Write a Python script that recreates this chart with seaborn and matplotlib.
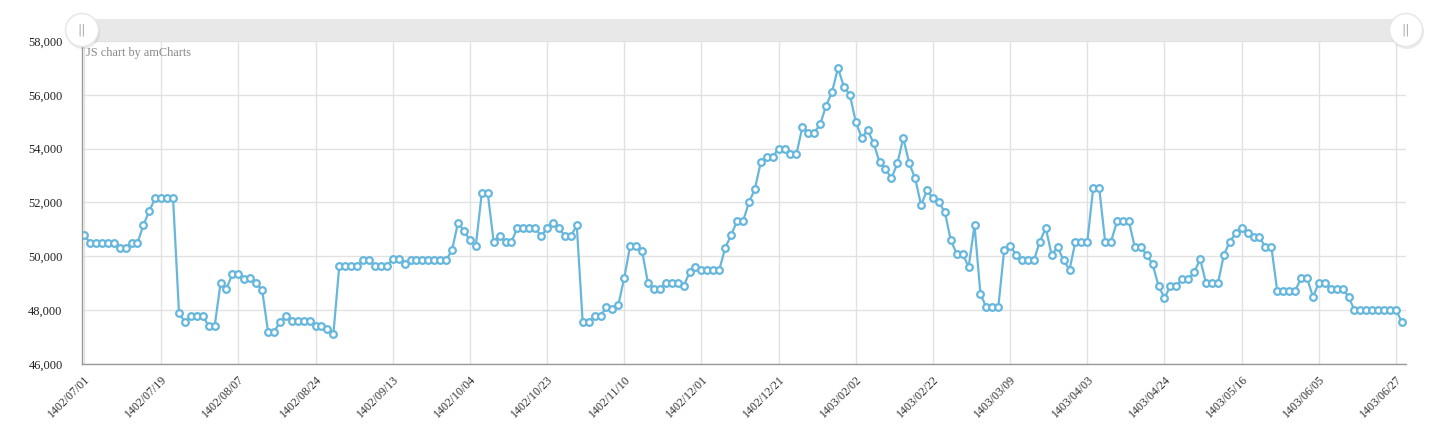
import numpy as np
import pandas as pd
import matplotlib
matplotlib.use("Agg")
import matplotlib.pyplot as plt
from matplotlib.patches import Rectangle, Circle
import seaborn as sns

# daily values (223 trading days)
values = [
    50800, 50500, 50500, 50500, 50500, 50500, 50300, 50300, 50500, 50500,
    51150, 51700, 52150, 52150, 52150, 52150, 47900, 47550, 47800, 47800,
    47800, 47400, 47400, 49000, 48800, 49350, 49350, 49150, 49200, 49000,
    48750, 47200, 47200, 47550, 47800, 47600, 47600, 47600, 47600, 47400,
    47400, 47300, 47100, 49650, 49650, 49650, 49650, 49850, 49850, 49650,
    49650, 49650, 49900, 49900, 49700, 49850, 49850, 49850, 49850, 49850,
    49850, 49850, 50250, 51250, 50950, 50600, 50400, 52350, 52350, 50550,
    50750, 50550, 50550, 51050, 51050, 51050, 51050, 50750, 51050, 51250,
    51050, 50750, 50750, 51150, 47550, 47550, 47800, 47800, 48100, 48050,
    48200, 49200, 50400, 50400, 50200, 49000, 48800, 48800, 49000, 49000,
    49000, 48900, 49400, 49600, 49500, 49500, 49500, 49500, 50300, 50800,
    51300, 51300, 52000, 52500, 53500, 53700, 53700, 54000, 54000, 53800,
    53800, 54800, 54600, 54600, 54900, 55600, 56100, 57000, 56300, 56000,
    55000, 54400, 54700, 54200, 53500, 53250, 52900, 53450, 54400, 53450,
    52900, 51900, 52450, 52150, 52000, 51650, 50600, 50100, 50100, 49600,
    51150, 48600, 48100, 48100, 48100, 50250, 50400, 50050, 49850, 49850,
    49850, 50550, 51050, 50050, 50350, 49850, 49500, 50550, 50550, 50550,
    52550, 52550, 50550, 50550, 51300, 51300, 51300, 50350, 50350, 50050,
    49700, 48900, 48450, 48900, 48900, 49150, 49150, 49400, 49900, 49000,
    49000, 49000, 50050, 50550, 50850, 51050, 50850, 50700, 50700, 50350,
    50350, 48700, 48700, 48700, 48700, 49200, 49200, 48500, 49000, 49000,
    48800, 48800, 48800, 48500, 48000, 48000, 48000, 48000, 48000, 48000,
    48000, 48000, 47550,
]

tick_labels = [
    "1402/07/01", "1402/07/19", "1402/08/07", "1402/08/24", "1402/09/13",
    "1402/10/04", "1402/10/23", "1402/11/10", "1402/12/01", "1402/12/21",
    "1403/02/02", "1403/02/22", "1403/03/09", "1403/04/03", "1403/04/24",
    "1403/05/16", "1403/06/05", "1403/06/27",
]
tick_step = 13
y_ticks = [46000, 48000, 50000, 52000, 54000, 56000, 58000]

df = pd.DataFrame({"day": np.arange(len(values)), "price": values})

sns.set_style("white")
plt.rcParams["font.family"] = ["Liberation Serif", "DejaVu Serif"]

W, H = 1438, 440
fig = plt.figure(figsize=(W / 100, H / 100), dpi=100)
ax = fig.add_axes([82 / W, 1 - 364 / H, (1406 - 82) / W, (364 - 41) / H])

line_col = "#67b7dc"
sns.lineplot(data=df, x="day", y="price", ax=ax, color=line_col, linewidth=1.6,
             marker="o", markersize=4.8, markerfacecolor="white",
             markeredgecolor=line_col, markeredgewidth=1.6)

ax.set_xlim(-0.34, len(values) - 1 + 0.68)
ax.set_ylim(46000, 58000)
ax.set_xticks(np.arange(len(tick_labels)) * tick_step)
ax.set_xticklabels(tick_labels, rotation=45, ha="right", rotation_mode="anchor",
                   fontsize=8.6, color="#333333")
ax.set_yticks(y_ticks)
ax.set_yticklabels([f"{v:,}" for v in y_ticks], fontsize=8.9, color="#222222")
ax.set_xlabel("")
ax.set_ylabel("")

ax.grid(True, color="#e2e2e2", linewidth=1)
ax.set_axisbelow(True)
for s in ["top", "right"]:
    ax.spines[s].set_visible(False)
for s in ["left", "bottom"]:
    ax.spines[s].set_color("#999999")
    ax.spines[s].set_linewidth(1)
ax.tick_params(axis="y", length=5, color="#999999", width=1, pad=9)
ax.tick_params(axis="x", length=4, color="#cccccc", width=1, pad=3)

ax.text(4 / (1406 - 82), 1 - 12 / (364 - 41), "JS chart by amCharts",
        transform=ax.transAxes, fontsize=8.8, color="#888888", va="center")

# scrollbar on top
fig.patches.append(Rectangle((82 / W, 1 - 41 / H), (1406 - 82) / W, 22 / H,
                             transform=fig.transFigure, facecolor="#e8e8e8",
                             edgecolor="none", zorder=1))
for gx in [82, 1406]:
    shadow = Circle((gx + 1, H - 32), 17, transform=None,
                    facecolor="#000000", alpha=0.08, edgecolor="none", zorder=2)
    grip = Circle((gx, H - 30), 16.5, transform=None,
                  facecolor="white", edgecolor="#e6e6e6", linewidth=1, zorder=3)
    fig.patches.append(shadow)
    fig.patches.append(grip)
    fig.text(gx / W, 1 - 30 / H, "||", ha="center", va="center", fontsize=9,
             color="#aaaaaa", family="DejaVu Sans", zorder=4)

fig.savefig("out.png", dpi=100)
